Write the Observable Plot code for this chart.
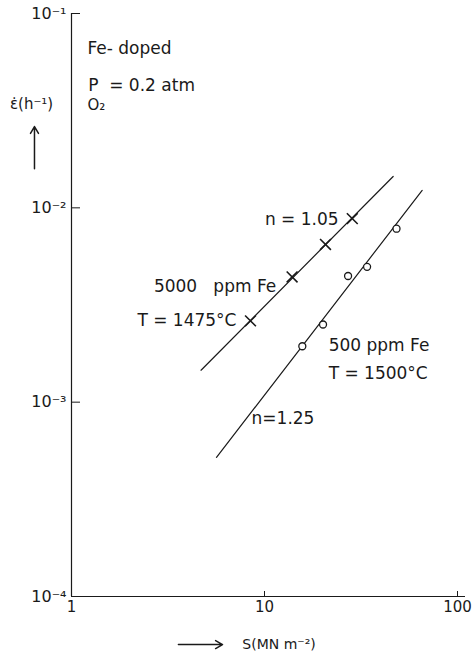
<!DOCTYPE html>
<html><head><meta charset="utf-8">
<script src="https://cdn.jsdelivr.net/npm/d3@7"></script>
<script src="https://cdn.jsdelivr.net/npm/@observablehq/plot@0.6"></script>
<style>html,body{margin:0;padding:0;background:#fff} svg{display:block}</style>
</head><body><div id="chart"></div>
<script>
// ---- tick values and labels ----
const xTicks = [1, 10, 100];
const xTickLabels = ["1", "10", "100"];
const yTicks = [1e-1, 1e-2, 1e-3, 1e-4];
const yTickLabels = ["10⁻¹", "10⁻²", "10⁻³", "10⁻⁴"];

// ---- 5000 ppm Fe, T = 1475 °C (crosses) ----
const stress5000 = [8.46, 13.9, 20.7, 28.5];
const rate5000 = [2.62e-3, 4.41e-3, 6.48e-3, 8.8e-3];
const fit5000Stress = [4.69, 46.4];
const fit5000Rate = [1.46e-3, 1.45e-2];

// ---- 500 ppm Fe, T = 1500 °C (circles) ----
const stress500 = [15.7, 20.1, 27.1, 34.0, 48.3];
const rate500 = [1.94e-3, 2.51e-3, 4.46e-3, 4.97e-3, 7.81e-3];
const fit500Stress = [5.64, 65.6];
const fit500Rate = [5.2e-4, 1.23e-2];

// ---- annotation texts (anchored in data space) ----
const labelsStart = [
  {x: 1.21, y: 0.0664, text: "Fe- doped", size: 17},
  {x: 1.22, y: 0.0426, text: "P  = 0.2 atm", size: 17},
  {x: 1.21, y: 0.0336, text: "O₂", size: 15},
  {x: 21.5, y: 1.95e-3, text: "500 ppm Fe", size: 17},
  {x: 21.5, y: 1.40e-3, text: "T = 1500°C", size: 17},
  {x: 8.57, y: 8.24e-4, text: "n=1.25", size: 17}
];
const labelsEnd = [
  {x: 24.2, y: 8.71e-3, text: "n = 1.05"},
  {x: 11.5, y: 3.94e-3, text: "5000   ppm Fe"},
  {x: 7.16, y: 2.63e-3, text: "T = 1475°C"}
];
const axisTitles = [
  {x: 0.621, y: 0.034, text: "ε̇(h⁻¹)", size: 15},
  {x: 11.9, y: 5.66e-5, text: "S(MN m⁻²)", size: 14}
];
const arrows = [
  {x1: 0.643, y1: 0.0159, x2: 0.643, y2: 0.0262},
  {x1: 3.58, y1: 5.66e-5, x2: 6.06, y2: 5.66e-5}
];

const W = 476, H = 651, mL = 71, mR = 11, mT = 13, mB = 55;
const pts = (xs, ys) => xs.map((x, i) => ({x, y: ys[i]}));
const ink = "#1a1a1a";

const chart = Plot.plot({
  width: W, height: H,
  marginLeft: mL, marginRight: mR, marginTop: mT, marginBottom: mB,
  style: {fontFamily: "DejaVu Sans", background: "white", color: ink},
  x: {type: "log", domain: [1, 110], axis: null},
  y: {type: "log", domain: [1e-4, 1e-1], axis: null},
  marks: [
    Plot.ruleX([1], {stroke: ink, strokeWidth: 1.2}),
    Plot.ruleY([1e-4], {stroke: ink, strokeWidth: 1.2}),
    // tick labels
    Plot.axisY(yTicks, {anchor: "left", tickSize: 0, tickPadding: 5, fontSize: 16,
      tickFormat: d => yTickLabels[yTicks.indexOf(d)]}),
    Plot.axisX(xTicks, {anchor: "bottom", tickSize: 0, tickPadding: 5, fontSize: 15,
      tickFormat: d => xTickLabels[xTicks.indexOf(d)]}),
    // inward tick marks
    Plot.axisY(yTicks.slice(0, 3), {anchor: "right", tickSize: 8, tickFormat: () => "",
      dx: -(W - mL - mR), stroke: ink}),
    Plot.axisX(xTicks.slice(1), {anchor: "top", tickSize: 6, tickFormat: () => "",
      dy: H - mT - mB, stroke: ink}),
    // fitted lines
    Plot.line(pts(fit5000Stress, fit5000Rate), {x: "x", y: "y", stroke: ink, strokeWidth: 1.2}),
    Plot.line(pts(fit500Stress, fit500Rate), {x: "x", y: "y", stroke: ink, strokeWidth: 1.2}),
    // data
    Plot.dot(pts(stress5000, rate5000), {x: "x", y: "y", symbol: "times", r: 5, stroke: ink, strokeWidth: 1.6}),
    Plot.dot(pts(stress500, rate500), {x: "x", y: "y", symbol: "circle", r: 3.5, fill: "white", stroke: ink, strokeWidth: 1.3}),
    // annotations
    Plot.text(labelsStart, {x: "x", y: "y", text: "text", textAnchor: "start", fontSize: d => d.size, fill: ink}),
    Plot.text(labelsEnd, {x: "x", y: "y", text: "text", textAnchor: "end", fontSize: 17, fill: ink}),
    Plot.text(axisTitles, {x: "x", y: "y", text: "text", textAnchor: "middle", fontSize: d => d.size, fill: ink}),
    Plot.arrow(arrows, {x1: "x1", y1: "y1", x2: "x2", y2: "y2", stroke: ink, strokeWidth: 1.5, headLength: 8})
  ]
});
document.getElementById("chart").append(chart);
</script>
</body></html>
